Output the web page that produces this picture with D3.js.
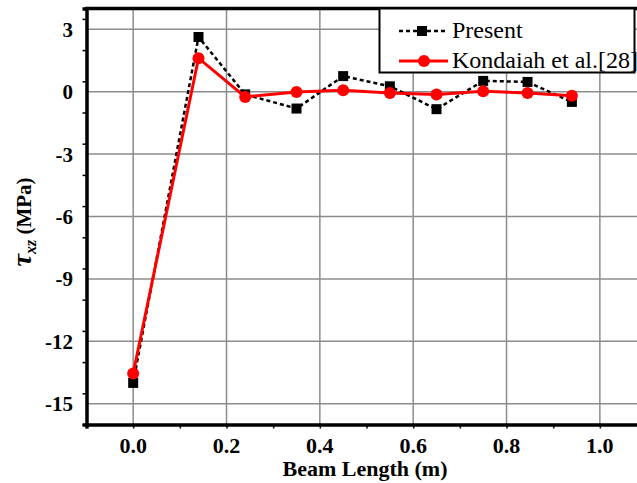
<!DOCTYPE html>
<html>
<head>
<meta charset="utf-8">
<script src="https://cdn.jsdelivr.net/npm/d3@7"></script>
<style>
  body { margin: 0; background: #fff; }
  svg { display: block; }
</style>
</head>
<body>
<svg id="chart" width="637" height="483"></svg>
<script>
// beam positions (m)
var beamX = [0.0, 0.14, 0.24, 0.35, 0.45, 0.55, 0.65, 0.75, 0.845, 0.94];
// shear stress values (MPa)
var presentVals = [-14.0, 2.63, -0.13, -0.81, 0.75, 0.26, -0.84, 0.52, 0.47, -0.49];
var kondaiahVals = [-13.55, 1.61, -0.25, -0.01, 0.07, -0.06, -0.13, 0.02, -0.06, -0.2];
var xTicks = [0.0, 0.2, 0.4, 0.6, 0.8, 1.0];
var yTicks = [3, 0, -3, -6, -9, -12, -15];
var seriesNames = ["Present", "Kondaiah et al.[28]"];

var FONT = "'Liberation Serif'";

var svg = d3.select("#chart").style("font-family", FONT);

var x = d3.scaleLinear().domain([-0.1, 1.1]).range([86.5, 86.5 + 1.2 * 466.7]);
var y = d3.scaleLinear().domain([4, -16]).range([8.5, 424.5]);

// grid
var grid = svg.append("g");
grid.selectAll(".vg").data(xTicks).enter().append("line")
  .attr("x1", function(d) { return x(d); })
  .attr("x2", function(d) { return x(d); })
  .attr("y1", y(4)).attr("y2", y(-16))
  .attr("stroke", "#8c8c8c").attr("stroke-width", 1.5);
grid.selectAll(".hg").data(yTicks).enter().append("line")
  .attr("x1", x(-0.1)).attr("x2", 637)
  .attr("y1", function(d) { return y(d); })
  .attr("y2", function(d) { return y(d); })
  .attr("stroke", "#8c8c8c").attr("stroke-width", 1.5);

// axes (minor ticks only, labels drawn below)
var xAxis = d3.axisBottom(x).tickValues(d3.range(-0.1, 1.15, 0.1)).tickSize(4).tickFormat("");
var yAxis = d3.axisLeft(y).tickValues(d3.range(-16, 4.1, 1.5)).tickSize(4).tickFormat("");

svg.append("g").attr("transform", "translate(0," + y(-16) + ")").call(xAxis)
  .call(function(g) {
    g.select(".domain").attr("stroke-width", 3.5);
    g.selectAll(".tick line").attr("stroke-width", 1.5);
  });
svg.append("g").attr("transform", "translate(" + x(-0.1) + ",0)").call(yAxis)
  .call(function(g) {
    g.select(".domain").attr("stroke-width", 3.5);
    g.selectAll(".tick line").attr("stroke-width", 1.5);
  });
// top border
svg.append("line").attr("x1", x(-0.1) - 1.5).attr("x2", 637)
  .attr("y1", y(4)).attr("y2", y(4)).attr("stroke", "#000").attr("stroke-width", 3.5);

// tick labels
svg.append("g").selectAll("text").data(xTicks).enter().append("text")
  .attr("x", function(d) { return x(d); })
  .attr("y", 453)
  .attr("text-anchor", "middle")
  .style("font-family", FONT).style("font-size", "22px").style("font-weight", "bold")
  .text(function(d) { return d3.format(".1f")(d); });
svg.append("g").selectAll("text").data(yTicks).enter().append("text")
  .attr("x", 73)
  .attr("y", function(d) { return y(d) + 7.5; })
  .attr("text-anchor", "end")
  .style("font-family", FONT).style("font-size", "21px").style("font-weight", "bold")
  .text(function(d) { return d; });

// axis titles
svg.append("text").attr("x", 365).attr("y", 476)
  .attr("text-anchor", "middle")
  .style("font-family", FONT).style("font-size", "22px").style("font-weight", "bold")
  .text("Beam Length (m)");
var yl = svg.append("text").attr("transform", "translate(31,222) rotate(-90)")
  .attr("text-anchor", "middle")
  .style("font-family", FONT).style("font-size", "21px").style("font-weight", "bold");
yl.append("tspan").style("font-style", "italic").style("font-size", "28px").text("τ");
yl.append("tspan").style("font-style", "italic").style("font-size", "16px").attr("dy", 5).text("xz");
yl.append("tspan").attr("dy", -5).text(" (MPa)");

// lines
var line = function(vals) {
  return d3.line().x(function(d, i) { return x(beamX[i]); }).y(function(d) { return y(d); })(vals);
};
svg.append("path").attr("d", line(presentVals))
  .attr("fill", "none").attr("stroke", "#000").attr("stroke-width", 2.5)
  .attr("stroke-dasharray", "4,3");
svg.append("g").selectAll("rect").data(presentVals).enter().append("rect")
  .attr("x", function(d, i) { return x(beamX[i]) - 5; })
  .attr("y", function(d) { return y(d) - 5; })
  .attr("width", 10).attr("height", 10).attr("fill", "#000");

svg.append("path").attr("d", line(kondaiahVals))
  .attr("fill", "none").attr("stroke", "#ff0000").attr("stroke-width", 3);
svg.append("g").selectAll("circle").data(kondaiahVals).enter().append("circle")
  .attr("cx", function(d, i) { return x(beamX[i]); })
  .attr("cy", function(d) { return y(d); })
  .attr("r", 6).attr("fill", "#ff0000");

// legend
var lg = svg.append("g");
lg.append("rect").attr("x", 379.5).attr("y", 8.5).attr("width", 255).attr("height", 64)
  .attr("fill", "#fff").attr("stroke", "#000").attr("stroke-width", 2);
lg.append("line").attr("x1", 399).attr("x2", 445).attr("y1", 31).attr("y2", 31)
  .attr("stroke", "#000").attr("stroke-width", 2.5).attr("stroke-dasharray", "4,3");
lg.append("rect").attr("x", 417).attr("y", 26).attr("width", 10).attr("height", 10).attr("fill", "#000");
lg.append("line").attr("x1", 399).attr("x2", 448).attr("y1", 61).attr("y2", 61)
  .attr("stroke", "#ff0000").attr("stroke-width", 3);
lg.append("circle").attr("cx", 424).attr("cy", 61).attr("r", 6).attr("fill", "#ff0000");
lg.selectAll("text").data(seriesNames).enter().append("text")
  .attr("x", 452).attr("y", function(d, i) { return 38 + i * 30; })
  .style("font-family", FONT).style("font-size", "24px")
  .text(function(d) { return d; });
</script>
</body>
</html>
